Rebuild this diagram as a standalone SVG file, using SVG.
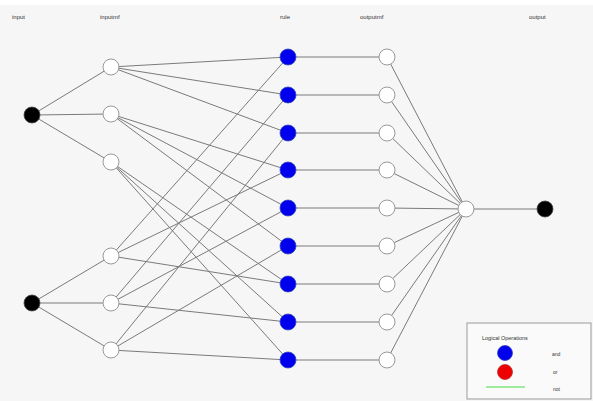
<svg xmlns="http://www.w3.org/2000/svg" width="593" height="401" viewBox="0 0 593 401">
<style>
.t{font-family:"Liberation Sans",Arial,sans-serif;font-size:6px;fill:#333}
.c line{stroke:#7a7a7a;stroke-width:1}
.w{fill:#fff;stroke:#999;stroke-width:1}
.k{fill:#000;stroke:#444;stroke-width:0.8}
.b{fill:#0000ee;stroke:#3344bb;stroke-width:0.8}
</style>
<rect x="0" y="0" width="593" height="401" fill="#fff"/>
<rect x="0" y="5" width="593" height="396" fill="#f6f6f6"/>
<text class="t" x="12" y="19">input</text>
<text class="t" x="100" y="19">inputmf</text>
<text class="t" x="280" y="19">rule</text>
<text class="t" x="360" y="19">outputmf</text>
<text class="t" x="529" y="19">output</text>
<g class="c" id="connectors">
<line x1="32" y1="115" x2="111" y2="67"/>
<line x1="32" y1="115" x2="111" y2="114"/>
<line x1="32" y1="115" x2="111" y2="162"/>
<line x1="32" y1="303" x2="111" y2="256"/>
<line x1="32" y1="303" x2="111" y2="303"/>
<line x1="32" y1="303" x2="111" y2="350"/>
<line x1="111" y1="67" x2="288" y2="57"/>
<line x1="111" y1="67" x2="288" y2="95"/>
<line x1="111" y1="67" x2="288" y2="133"/>
<line x1="111" y1="114" x2="288" y2="170"/>
<line x1="111" y1="114" x2="288" y2="208"/>
<line x1="111" y1="114" x2="288" y2="246"/>
<line x1="111" y1="162" x2="288" y2="284"/>
<line x1="111" y1="162" x2="288" y2="322"/>
<line x1="111" y1="162" x2="288" y2="360"/>
<line x1="111" y1="256" x2="288" y2="57"/>
<line x1="111" y1="256" x2="288" y2="170"/>
<line x1="111" y1="256" x2="288" y2="284"/>
<line x1="111" y1="303" x2="288" y2="95"/>
<line x1="111" y1="303" x2="288" y2="208"/>
<line x1="111" y1="303" x2="288" y2="322"/>
<line x1="111" y1="350" x2="288" y2="133"/>
<line x1="111" y1="350" x2="288" y2="246"/>
<line x1="111" y1="350" x2="288" y2="360"/>
<line x1="288" y1="57" x2="387" y2="57"/>
<line x1="288" y1="95" x2="387" y2="95"/>
<line x1="288" y1="133" x2="387" y2="133"/>
<line x1="288" y1="170" x2="387" y2="170"/>
<line x1="288" y1="208" x2="387" y2="208"/>
<line x1="288" y1="246" x2="387" y2="246"/>
<line x1="288" y1="284" x2="387" y2="284"/>
<line x1="288" y1="322" x2="387" y2="322"/>
<line x1="288" y1="360" x2="387" y2="360"/>
<line x1="387" y1="57" x2="466" y2="209"/>
<line x1="387" y1="95" x2="466" y2="209"/>
<line x1="387" y1="133" x2="466" y2="209"/>
<line x1="387" y1="170" x2="466" y2="209"/>
<line x1="387" y1="208" x2="466" y2="209"/>
<line x1="387" y1="246" x2="466" y2="209"/>
<line x1="387" y1="284" x2="466" y2="209"/>
<line x1="387" y1="322" x2="466" y2="209"/>
<line x1="387" y1="360" x2="466" y2="209"/>
<line x1="466" y1="209" x2="545" y2="209"/>
</g>
<g id="in1"><circle class="k" cx="32" cy="115" r="8"/></g>
<g id="in2"><circle class="k" cx="32" cy="303" r="8"/></g>
<g id="mf1"><circle class="w" cx="111" cy="67" r="8"/></g>
<g id="mf2"><circle class="w" cx="111" cy="114" r="8"/></g>
<g id="mf3"><circle class="w" cx="111" cy="162" r="8"/></g>
<g id="mf4"><circle class="w" cx="111" cy="256" r="8"/></g>
<g id="mf5"><circle class="w" cx="111" cy="303" r="8"/></g>
<g id="mf6"><circle class="w" cx="111" cy="350" r="8"/></g>
<g id="r1"><circle class="b" cx="288" cy="57" r="8"/></g>
<g id="r2"><circle class="b" cx="288" cy="95" r="8"/></g>
<g id="r3"><circle class="b" cx="288" cy="133" r="8"/></g>
<g id="r4"><circle class="b" cx="288" cy="170" r="8"/></g>
<g id="r5"><circle class="b" cx="288" cy="208" r="8"/></g>
<g id="r6"><circle class="b" cx="288" cy="246" r="8"/></g>
<g id="r7"><circle class="b" cx="288" cy="284" r="8"/></g>
<g id="r8"><circle class="b" cx="288" cy="322" r="8"/></g>
<g id="r9"><circle class="b" cx="288" cy="360" r="8"/></g>
<g id="o1"><circle class="w" cx="387" cy="57" r="8"/></g>
<g id="o2"><circle class="w" cx="387" cy="95" r="8"/></g>
<g id="o3"><circle class="w" cx="387" cy="133" r="8"/></g>
<g id="o4"><circle class="w" cx="387" cy="170" r="8"/></g>
<g id="o5"><circle class="w" cx="387" cy="208" r="8"/></g>
<g id="o6"><circle class="w" cx="387" cy="246" r="8"/></g>
<g id="o7"><circle class="w" cx="387" cy="284" r="8"/></g>
<g id="o8"><circle class="w" cx="387" cy="322" r="8"/></g>
<g id="o9"><circle class="w" cx="387" cy="360" r="8"/></g>
<g id="agg"><circle class="w" cx="466" cy="209" r="8"/></g>
<g id="out"><circle class="k" cx="545" cy="209" r="8"/></g>
<g id="legend">
<rect x="467" y="323" width="124" height="76" fill="#fafafa" stroke="#999" stroke-width="1"/>
<text class="t" x="482" y="340" style="font-size:5.5px">Logical Operations</text>
<circle cx="505" cy="353" r="7.5" fill="#0000ee" stroke="#3344bb" stroke-width="0.8"/>
<circle cx="505" cy="372" r="7.5" fill="#ee0000" stroke="#bb3333" stroke-width="0.8"/>
<line x1="486" y1="387" x2="525" y2="387" stroke="#44dd44" stroke-width="1"/>
<text class="t" x="552" y="356" style="font-size:5px">and</text>
<text class="t" x="553" y="374" style="font-size:5px">or</text>
<text class="t" x="553" y="391" style="font-size:5px">not</text>
</g>
</svg>
